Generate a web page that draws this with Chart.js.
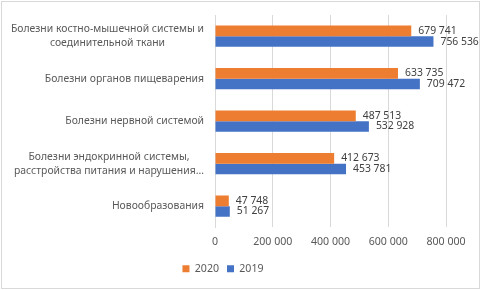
<!DOCTYPE html>
<html>
<head>
<meta charset="utf-8">
<script src="https://cdn.jsdelivr.net/npm/chart.js@4.4.1/dist/chart.umd.min.js"></script>
<style>
  html, body { margin: 0; padding: 0; background: #fff; }
  #wrap { position: relative; width: 482px; height: 290px; }
  #frame { position: absolute; left: 1px; top: 1px; width: 477px; height: 286px; border: 1px solid #d9d9d9; pointer-events: none; }
</style>
</head>
<body>
<div id="wrap">
  <canvas id="grafik" width="482" height="290"></canvas>
  <div id="frame"></div>
</div>
<script>
// categories (top to bottom), each entry = lines of the label
const kategori = [
  ["Болезни костно-мышечной системы и", "соединительной ткани"],
  ["Болезни органов пищеварения"],
  ["Болезни нервной системой"],
  ["Болезни эндокринной системы,", "расстройства питания и нарушения..."],
  ["Новообразования"]
];
const nilai2020 = [679741, 633735, 487513, 412673, 47748];
const nilai2019 = [756536, 709472, 532928, 453781, 51267];
const tickX = [0, 200000, 400000, 600000, 800000];

const FONT = "'Noto Sans', 'Open Sans', sans-serif";
const abu = '#595959';

function fmt(n) {
  return String(n).replace(/\B(?=(\d{3})+(?!\d))/g, ' ');
}

// custom category labels: block right-aligned to the axis, lines centered inside it
const labelKategori = {
  id: 'labelKategori',
  afterDraw(chart) {
    const ctx = chart.ctx;
    const y = chart.scales.y;
    ctx.save();
    ctx.font = '10.4px ' + FONT;
    ctx.fillStyle = abu;
    ctx.textAlign = 'center';
    ctx.textBaseline = 'middle';
    kategori.forEach((lines, i) => {
      const cy = y.getPixelForTick(i);
      const w = Math.max(...lines.map(l => ctx.measureText(l).width));
      const cx = chart.chartArea.left - 11 - w / 2;
      const lh = 14;
      lines.forEach((l, j) => {
        ctx.fillText(l, cx, cy + (j - (lines.length - 1) / 2) * lh);
      });
    });
    ctx.restore();
  }
};

// value labels at the end of each bar
const labelNilai = {
  id: 'labelNilai',
  afterDatasetsDraw(chart) {
    const ctx = chart.ctx;
    ctx.save();
    ctx.font = '10.4px ' + FONT;
    ctx.fillStyle = '#404040';
    ctx.textAlign = 'left';
    ctx.textBaseline = 'middle';
    chart.data.datasets.forEach((ds, di) => {
      chart.getDatasetMeta(di).data.forEach((bar, i) => {
        ctx.fillText(fmt(ds.data[i]), bar.x + 7, bar.y);
      });
    });
    ctx.restore();
  }
};

new Chart(document.getElementById('grafik'), {
  type: 'bar',
  data: {
    labels: kategori,
    datasets: [
      { label: '2020', data: nilai2020, backgroundColor: '#ED7D31' },
      { label: '2019', data: nilai2019, backgroundColor: '#4472C4' }
    ]
  },
  options: {
    indexAxis: 'y',
    responsive: false,
    animation: false,
    categoryPercentage: 0.5,
    barPercentage: 1.0,
    layout: { padding: { top: 15, right: 36, left: 0, bottom: 6 } },
    plugins: {
      tooltip: { enabled: false },
      legend: {
        position: 'bottom',
        labels: {
          boxWidth: 7, boxHeight: 7, padding: 8,
          color: abu, font: { family: FONT, size: 10.6 }
        }
      }
    },
    scales: {
      x: {
        min: 0, max: 800000,
        afterBuildTicks(s) { s.ticks = tickX.map(v => ({ value: v })); },
        afterFit(s) { s.height = 28; },
        grid: { color: '#d9d9d9', drawTicks: false },
        border: { display: false },
        ticks: {
          color: abu, padding: 8,
          font: { family: FONT, size: 10.6 },
          callback: v => fmt(v)
        }
      },
      y: {
        grid: { display: false },
        border: { display: true, color: '#d9d9d9' },
        ticks: { display: false },
        afterFit(s) { s.width = 215; }
      }
    }
  },
  plugins: [labelKategori, labelNilai]
});
</script>
</body>
</html>
